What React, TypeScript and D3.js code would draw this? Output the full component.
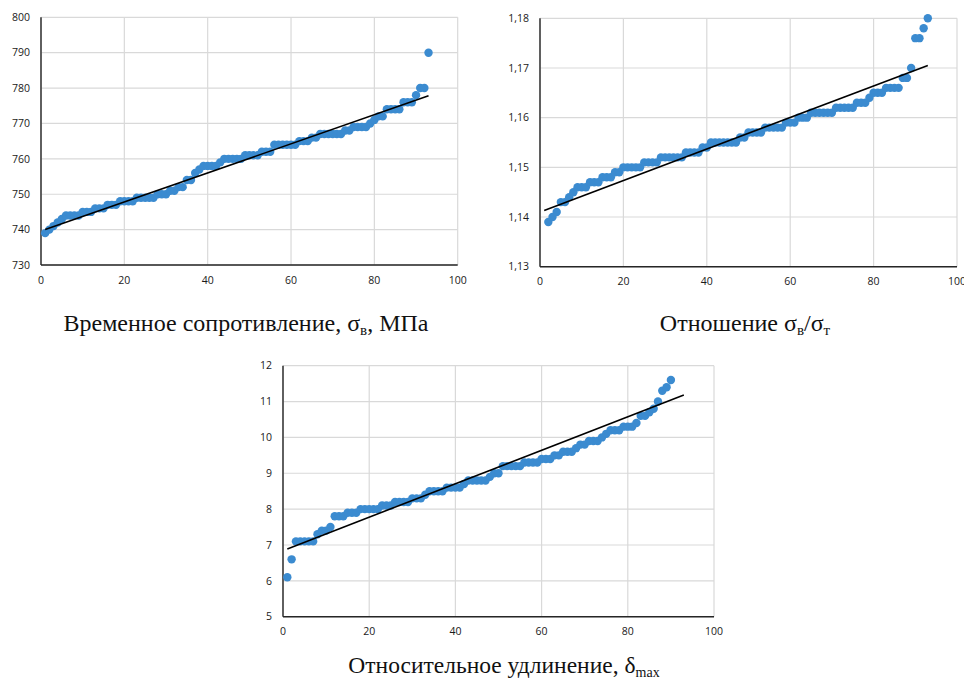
import React from "react";
import { scaleLinear, line } from "d3";

// x = 1..93
const STRENGTH = [
  739, 740, 741, 742, 743, 744, 744, 744, 744, 745, 745, 745, 746, 746, 746, 747, 747, 747, 748, 748,
  748, 748, 749, 749, 749, 749, 749, 750, 750, 750, 751, 751, 752, 752, 754, 754, 756, 757, 758, 758,
  758, 758, 759, 760, 760, 760, 760, 760, 761, 761, 761, 761, 762, 762, 762, 764, 764, 764, 764, 764,
  764, 765, 765, 765, 766, 766, 767, 767, 767, 767, 767, 767, 768, 768, 769, 769, 769, 769, 770, 771,
  772, 772, 774, 774, 774, 774, 776, 776, 776, 778, 780, 780, 790,
];
const STRENGTH_START = 1;
const STRENGTH_TREND = [[1, 740.0], [93, 777.8]];
const STRENGTH_TICKS = [730, 740, 750, 760, 770, 780, 790, 800];

// x = 2..93
const RATIO = [
  1.139, 1.140, 1.141, 1.143, 1.143, 1.144, 1.145, 1.146, 1.146, 1.146, 1.147, 1.147, 1.147, 1.148,
  1.148, 1.148, 1.149, 1.149, 1.150, 1.150, 1.150, 1.150, 1.150, 1.151, 1.151, 1.151, 1.151, 1.152,
  1.152, 1.152, 1.152, 1.152, 1.152, 1.153, 1.153, 1.153, 1.153, 1.154, 1.154, 1.155, 1.155, 1.155,
  1.155, 1.155, 1.155, 1.155, 1.156, 1.156, 1.157, 1.157, 1.157, 1.157, 1.158, 1.158, 1.158, 1.158,
  1.158, 1.159, 1.159, 1.159, 1.160, 1.160, 1.160, 1.161, 1.161, 1.161, 1.161, 1.161, 1.161, 1.162,
  1.162, 1.162, 1.162, 1.162, 1.163, 1.163, 1.163, 1.164, 1.165, 1.165, 1.165, 1.166, 1.166, 1.166,
  1.166, 1.168, 1.168, 1.170, 1.176, 1.176, 1.178, 1.180,
];
const RATIO_START = 2;
const RATIO_TREND = [[1, 1.1413], [93, 1.1705]];
const RATIO_TICKS = [1.13, 1.14, 1.15, 1.16, 1.17, 1.18];

// x = 1..90
const ELONGATION = [
  6.1, 6.6, 7.1, 7.1, 7.1, 7.1, 7.1, 7.3, 7.4, 7.4, 7.5, 7.8, 7.8, 7.8, 7.9, 7.9, 7.9, 8.0, 8.0, 8.0,
  8.0, 8.0, 8.1, 8.1, 8.1, 8.2, 8.2, 8.2, 8.2, 8.3, 8.3, 8.3, 8.4, 8.5, 8.5, 8.5, 8.5, 8.6, 8.6, 8.6,
  8.6, 8.7, 8.8, 8.8, 8.8, 8.8, 8.8, 8.9, 9.0, 9.0, 9.2, 9.2, 9.2, 9.2, 9.2, 9.3, 9.3, 9.3, 9.3, 9.4,
  9.4, 9.4, 9.5, 9.5, 9.6, 9.6, 9.6, 9.7, 9.8, 9.8, 9.9, 9.9, 9.9, 10.0, 10.1, 10.2, 10.2, 10.2, 10.3, 10.3,
  10.3, 10.4, 10.6, 10.6, 10.7, 10.8, 11.0, 11.3, 11.4, 11.6,
];
const ELONGATION_START = 1;
const ELONGATION_TREND = [[1, 6.89], [93, 11.18]];
const ELONGATION_TICKS = [5, 6, 7, 8, 9, 10, 11, 12];

const X_TICKS = [0, 20, 40, 60, 80, 100];

const DOT = "#3b8bd0";
const GRID = "#d9d9d9";
const TICK_FONT = "'Open Sans', 'Liberation Sans', sans-serif";
const TITLE_FONT = "'Liberation Serif', serif";

function Panel({ left, top, right, bottom, values, start, trend, yTicks, fmt }) {
  const x = scaleLinear().domain([0, 100]).range([left, right]);
  const y = scaleLinear().domain([yTicks[0], yTicks[yTicks.length - 1]]).range([bottom, top]);
  const trendLine = line()
    .x((d) => x(d[0]))
    .y((d) => y(d[1]));

  return (
    <g>
      {/* grid */}
      {yTicks.map((t) => (
        <line key={"h" + t} x1={left} x2={right} y1={y(t)} y2={y(t)} stroke={GRID} strokeWidth={1.2} />
      ))}
      {X_TICKS.map((t) => (
        <line key={"v" + t} x1={x(t)} x2={x(t)} y1={top} y2={bottom} stroke={GRID} strokeWidth={1.2} />
      ))}
      {/* axes */}
      <line x1={left} x2={left} y1={top} y2={bottom} stroke="#262626" strokeWidth={1.4} />
      <line x1={left} x2={right} y1={bottom} y2={bottom} stroke="#262626" strokeWidth={1.4} />
      {yTicks.map((t) => (
        <text key={"yl" + t} x={left - 11} y={y(t)} dy="0.35em" textAnchor="end"
          fontFamily={TICK_FONT} fontSize={10.5} fill="#1a1a1a">{fmt(t)}</text>
      ))}
      {X_TICKS.map((t) => (
        <text key={"xl" + t} x={x(t)} y={bottom + 15} dy="0.35em" textAnchor="middle"
          fontFamily={TICK_FONT} fontSize={10.5} fill="#1a1a1a">{t}</text>
      ))}
      {/* points */}
      {values.map((v, i) => (
        <circle key={i} cx={x(start + i)} cy={y(v)} r={4.2} fill={DOT} />
      ))}
      {/* linear trend */}
      <path d={trendLine(trend)} fill="none" stroke="#000" strokeWidth={1.6} />
    </g>
  );
}

export default function App() {
  const comma2 = (d) => d.toFixed(2).replace(".", ",");
  const int = (d) => String(d);
  return (
    <svg width={964} height={679} style={{ position: "absolute", left: 0, top: 0, background: "#fff" }}>
      <Panel left={41} top={17.3} right={457.7} bottom={265} values={STRENGTH} start={STRENGTH_START}
        trend={STRENGTH_TREND} yTicks={STRENGTH_TICKS} fmt={int} />
      <Panel left={540} top={18.3} right={957} bottom={266.7} values={RATIO} start={RATIO_START}
        trend={RATIO_TREND} yTicks={RATIO_TICKS} fmt={comma2} />
      <Panel left={283} top={365.7} right={714} bottom={616.7} values={ELONGATION} start={ELONGATION_START}
        trend={ELONGATION_TREND} yTicks={ELONGATION_TICKS} fmt={int} />

      <text x={246} y={331} textAnchor="middle" fontFamily={TITLE_FONT} fontSize={24} fill="#111">
        Временное сопротивление, σ<tspan fontSize={15} dy={4}>в</tspan><tspan dy={-4}>, МПа</tspan>
      </text>
      <text x={745} y={331} textAnchor="middle" fontFamily={TITLE_FONT} fontSize={24} fill="#111">
        Отношение σ<tspan fontSize={15} dy={4}>в</tspan><tspan dy={-4}>/σ</tspan><tspan fontSize={15} dy={4}>т</tspan>
      </text>
      <text x={504} y={673} textAnchor="middle" fontFamily={TITLE_FONT} fontSize={23.5} fill="#111">
        Относительное удлинение, δ<tspan fontSize={14} dy={4}>max</tspan>
      </text>
    </svg>
  );
}
